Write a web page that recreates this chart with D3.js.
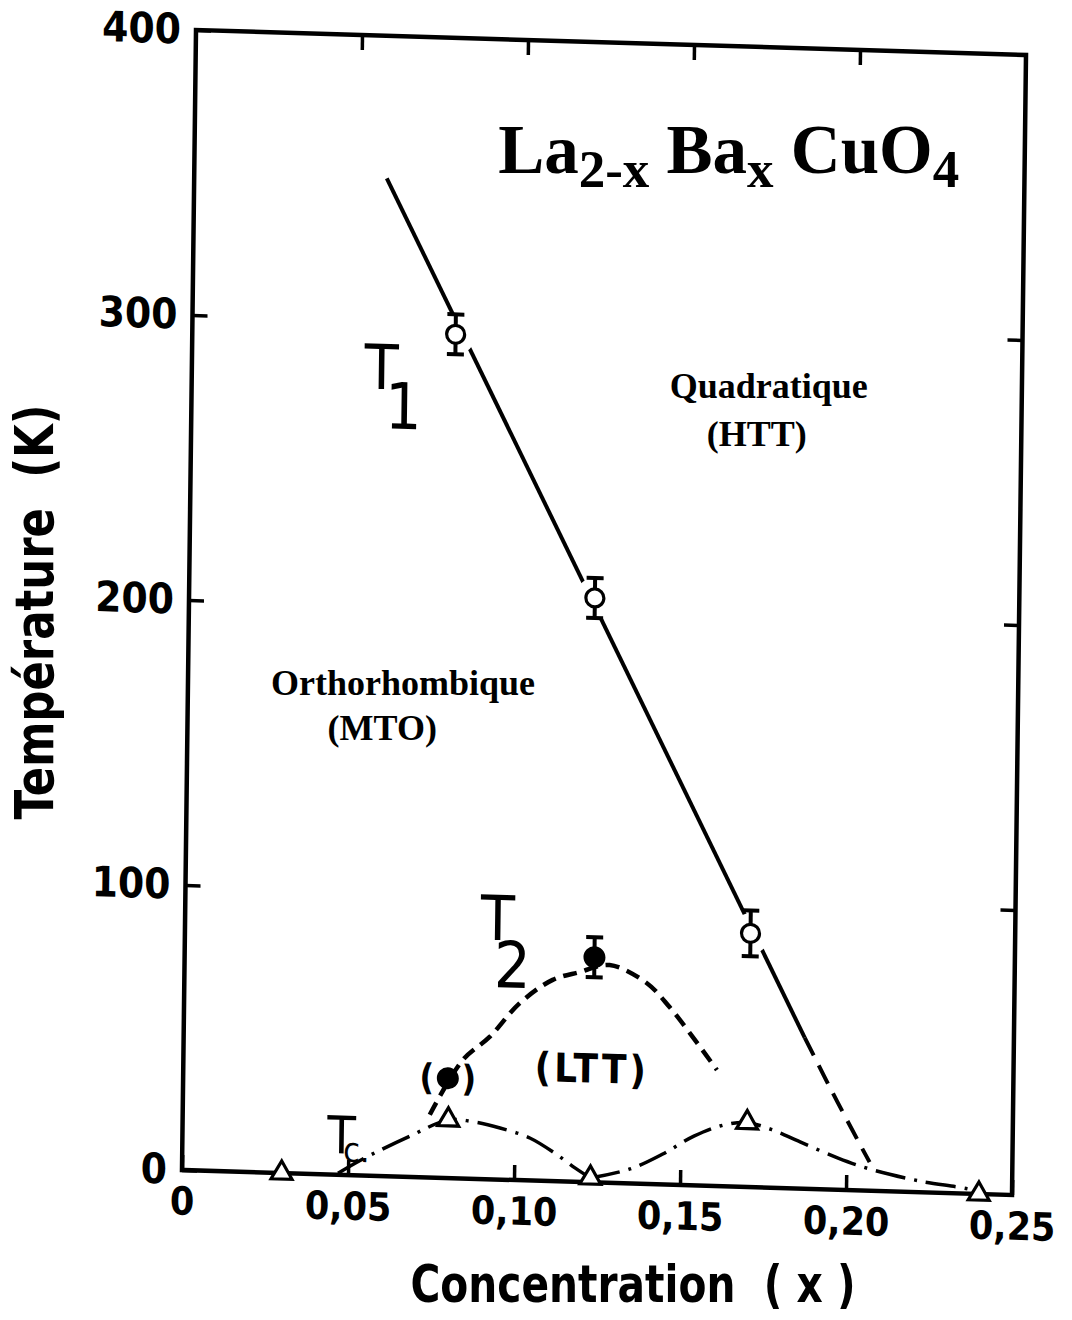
<!DOCTYPE html>
<html>
<head>
<meta charset="utf-8">
<script src="https://cdn.jsdelivr.net/npm/d3@7"></script>
<style>
body { margin: 0; background: #fff; }
svg { display: block; }
text { white-space: pre; }
</style>
</head>
<body>
<div id="chart-area"></div>
<script>

// Values: x = concentration, T in kelvin

// T1 : open circles with error bars
var t1X = [0.0793, 0.1222, 0.1703];
var t1Y = [296, 205, 89];
var t1Err = [7, 7, 8];

// T1 transition line (solid) and its dashed tail
var t1LineX = [0.058, 0.187];
var t1LineY = [350, 53];
var t1TailX = [0.187, 0.197, 0.207];
var t1TailY = [53, 31, 10];

// T2 : filled circles (first one bracketed, no error bar)
var t2X = [0.0797, 0.1234];
var t2Y = [35, 79];
var t2Err = [0, 7];

// T2 dashed curve
var t2CurveX = [0.0744, 0.0841, 0.0922, 0.101, 0.1109, 0.119, 0.128, 0.1392, 0.1462, 0.1524, 0.1607];
var t2CurveY = [22, 41.5, 50, 62, 70.6, 73.6, 76.4, 70.5, 62.3, 53.4, 40.7];

// Tc : open triangles
var tcX = [0.03, 0.08, 0.123, 0.17, 0.24];
var tcY = [0, 20.4, 1.5, 22.6, 0];

// Tc dash-dot curves (two domes)
var tc1X = [0.047, 0.054, 0.0685, 0.0802, 0.088, 0.0956, 0.1046, 0.1125, 0.1183, 0.123];
var tc1Y = [0.5, 5.5, 14.3, 20.4, 19.9, 18.1, 14.9, 9.6, 4.9, 1.5];
var tc2X = [0.123, 0.1349, 0.1447, 0.154, 0.1618, 0.1696, 0.1769, 0.186, 0.1975, 0.2071, 0.2222, 0.2379, 0.24];
var tc2Y = [1.5, 5.1, 10.7, 17.3, 21.1, 22.6, 20.6, 16.4, 11.1, 7.6, 3.9, 1.3, 0];

// Ticks
var xTicks = [0, 0.05, 0.10, 0.15, 0.20, 0.25];
var xMinor = [0.05, 0.10, 0.15, 0.20];
var yTicks = [0, 100, 200, 300, 400];
var yMinor = [100, 200, 300];


var svg = d3.select("#chart-area").append("svg")
	.attr("width", 1072)
	.attr("height", 1320);

svg.append("rect")
	.attr("width", 1072)
	.attr("height", 1320)
	.attr("fill", "#fff");

var x = d3.scaleLinear()
	.domain([0, 0.25])
	.range([0, 830]);

var y = d3.scaleLinear()
	.domain([0, 400])
	.range([0, -1140]);

// the scanned figure sits slightly tilted on the page
var ox = 182, oy = 1170;
var skewX = -14 / 1140, skewY = 25 / 830;

var g = svg.append("g")
	.attr("transform", "matrix(1," + skewY + "," + skewX + ",1," + ox + "," + oy + ")");

// page position of a data point (for the horizontal labels)
function toPx(xv, tv) {
	var u = x(xv), v = y(tv);
	return [ox + u + skewX * v, oy + skewY * u + v];
}

function pairs(xs, ys) {
	return xs.map(function(v, i) { return [v, ys[i]]; });
}

var tickFont = "'DejaVu Sans Condensed', 'DejaVu Sans', sans-serif";

function styleAxis(sel, size) {
	sel.attr("font-family", null).attr("font-size", null);
	sel.select(".domain").remove();
	sel.selectAll("line").attr("stroke", "#000").attr("stroke-width", 3.5);
	sel.selectAll("text")
		.attr("fill", "#000")
		.style("font-family", tickFont)
		.style("font-weight", "bold")
		.style("font-size", size + "px");
}

var fmtX = function(d) {
	return d === 0 ? "0" : d3.format(".2f")(d).replace(".", ",");
};

// Axes (ticks point inwards on all four sides)
g.append("g")
	.call(d3.axisLeft(y).tickValues(yTicks).tickSize(-15).tickPadding(15))
	.call(styleAxis, 42);

g.append("g")
	.call(d3.axisBottom(x).tickValues(xTicks).tickSize(-15).tickPadding(17).tickFormat(fmtX))
	.call(styleAxis, 39);

g.append("g")
	.attr("transform", "translate(0," + y(400) + ")")
	.call(d3.axisTop(x).tickValues(xMinor).tickSize(-15).tickFormat(""))
	.call(styleAxis, 10);

g.append("g")
	.attr("transform", "translate(" + x(0.25) + ",0)")
	.call(d3.axisRight(y).tickValues(yMinor).tickSize(-15).tickFormat(""))
	.call(styleAxis, 10);

// frame
g.append("rect")
	.attr("x", x(0))
	.attr("y", y(400))
	.attr("width", x(0.25) - x(0))
	.attr("height", y(0) - y(400))
	.attr("fill", "none")
	.attr("stroke", "#000")
	.attr("stroke-width", 4.5);

var straight = d3.line()
	.x(function(d) { return x(d[0]); })
	.y(function(d) { return y(d[1]); });

var smooth = d3.line()
	.x(function(d) { return x(d[0]); })
	.y(function(d) { return y(d[1]); })
	.curve(d3.curveCatmullRom.alpha(0.5));

// Tc curves
[pairs(tc1X, tc1Y), pairs(tc2X, tc2Y)].forEach(function(pts) {
	g.append("path")
		.attr("d", smooth(pts))
		.attr("fill", "none")
		.attr("stroke", "#000")
		.attr("stroke-width", 3.5)
		.attr("stroke-dasharray", "30,9,3,9");
});

// T2 curve
g.append("path")
	.attr("d", smooth(pairs(t2CurveX, t2CurveY)))
	.attr("fill", "none")
	.attr("stroke", "#000")
	.attr("stroke-width", 4.5)
	.attr("stroke-dasharray", "14,8");

// T1 line
g.append("path")
	.attr("d", straight(pairs(t1LineX, t1LineY)))
	.attr("fill", "none")
	.attr("stroke", "#000")
	.attr("stroke-width", 4);

g.append("path")
	.attr("d", smooth(pairs(t1TailX, t1TailY)))
	.attr("fill", "none")
	.attr("stroke", "#000")
	.attr("stroke-width", 4)
	.attr("stroke-dasharray", "20,11");

// white gap round the T1 points
g.selectAll(".halo")
	.data(pairs(t1X, t1Y))
	.enter().append("circle")
	.attr("class", "halo")
	.attr("cx", function(d) { return x(d[0]); })
	.attr("cy", function(d) { return y(d[1]); })
	.attr("r", 20)
	.attr("fill", "#fff");

// error bars
function errorBars(xs, ys, errs) {
	xs.forEach(function(xv, i) {
		if (!errs[i]) return;
		var cx = x(xv), top = y(ys[i] + errs[i]), bot = y(ys[i] - errs[i]);
		var eb = g.append("g").attr("stroke", "#000").attr("stroke-width", 4);
		eb.append("line").attr("x1", cx).attr("x2", cx).attr("y1", top).attr("y2", bot);
		eb.append("line").attr("x1", cx - 8.5).attr("x2", cx + 8.5).attr("y1", top).attr("y2", top);
		eb.append("line").attr("x1", cx - 8.5).attr("x2", cx + 8.5).attr("y1", bot).attr("y2", bot);
	});
}
errorBars(t1X, t1Y, t1Err);
errorBars(t2X, t2Y, t2Err);

g.selectAll(".t1pt")
	.data(pairs(t1X, t1Y))
	.enter().append("circle")
	.attr("class", "t1pt")
	.attr("cx", function(d) { return x(d[0]); })
	.attr("cy", function(d) { return y(d[1]); })
	.attr("r", 9)
	.attr("fill", "#fff")
	.attr("stroke", "#000")
	.attr("stroke-width", 3.2);

g.selectAll(".t2pt")
	.data(pairs(t2X, t2Y))
	.enter().append("circle")
	.attr("class", "t2pt")
	.attr("cx", function(d) { return x(d[0]); })
	.attr("cy", function(d) { return y(d[1]); })
	.attr("r", 11)
	.attr("fill", "#000");

// brackets round the uncertain T2 point
["(", ")"].forEach(function(s, i) {
	g.append("text")
		.attr("x", x(t2X[0]) + (i === 0 ? -21 : 21))
		.attr("y", y(t2Y[0]) + 12)
		.attr("text-anchor", "middle")
		.style("font-family", tickFont)
		.style("font-weight", "bold")
		.style("font-size", "36px")
		.text(s);
});

g.selectAll(".tcpt")
	.data(pairs(tcX, tcY))
	.enter().append("path")
	.attr("class", "tcpt")
	.attr("transform", function(d) { return "translate(" + x(d[0]) + "," + y(d[1]) + ")"; })
	.attr("d", d3.symbol().type(d3.symbolTriangle).size(190))
	.attr("fill", "#fff")
	.attr("stroke", "#000")
	.attr("stroke-width", 3.2);

// curve labels
function curveLabel(xv, tv, main, sub, size, subSize, sdx, sdy) {
	var px = x(xv), py = y(tv);
	var font = "'DejaVu Sans Condensed', 'DejaVu Sans', sans-serif";
	g.append("text").attr("x", px).attr("y", py)
		.style("font-family", font).style("font-size", size + "px")
		.text(main);
	g.append("text").attr("x", px + sdx).attr("y", py + sdy)
		.style("font-family", font).style("font-size", subSize + "px")
		.text(sub);
}
curveLabel(0.052, 276, "T", "1", 62, 64, 21, 39);
curveLabel(0.089, 84, "T", "2", 62, 64, 14, 47);
curveLabel(0.0436, 7.5, "T", "c.", 52, 34, 16, 8);

g.append("text")
	.attr("x", x(0.123))
	.attr("y", y(35))
	.attr("text-anchor", "middle")
	.style("font-family", tickFont)
	.style("font-weight", "bold")
	.style("font-size", "40px")
	.style("letter-spacing", "3px")
	.text("(LTT)");

// phase names and compound (set straight on the page)
var serif = "'Liberation Serif', 'Times New Roman', serif";

function phaseLabel(xv, tv, txt, size) {
	var p = toPx(xv, tv);
	svg.append("text")
		.attr("x", p[0]).attr("y", p[1])
		.attr("text-anchor", "middle")
		.style("font-family", serif)
		.style("font-weight", "bold")
		.style("font-size", size + "px")
		.text(txt);
}
phaseLabel(0.1738, 277, "Quadratique", 36);
phaseLabel(0.1704, 260, "(HTT)", 36);
phaseLabel(0.0648, 169, "Orthorhombique", 36);
phaseLabel(0.0587, 153, "(MTO)", 36);

var tp = toPx(0.0915, 353);
var title = svg.append("text")
	.attr("x", tp[0]).attr("y", tp[1])
	.style("font-family", serif)
	.style("font-weight", "bold")
	.style("font-size", "69px");
title.append("tspan").text("La");
title.append("tspan").attr("dy", 14).style("font-size", "53px").text("2-x");
title.append("tspan").attr("dy", -14).text(" Ba");
title.append("tspan").attr("dy", 14).style("font-size", "53px").text("x");
title.append("tspan").attr("dy", -14).text(" CuO");
title.append("tspan").attr("dy", 14).style("font-size", "53px").text("4");

// axis titles
svg.append("text")
	.attr("x", 633)
	.attr("y", 1302)
	.attr("text-anchor", "middle")
	.attr("textLength", 445)
	.attr("lengthAdjust", "spacingAndGlyphs")
	.style("font-family", tickFont)
	.style("font-weight", "bold")
	.style("font-size", "52px")
	.text("Concentration  ( x )");

svg.append("text")
	.attr("transform", "translate(53,612) rotate(-90)")
	.attr("text-anchor", "middle")
	.attr("textLength", 415)
	.attr("lengthAdjust", "spacingAndGlyphs")
	.style("font-family", tickFont)
	.style("font-weight", "bold")
	.style("font-size", "54px")
	.text("Température  (K)");

</script>
</body>
</html>
